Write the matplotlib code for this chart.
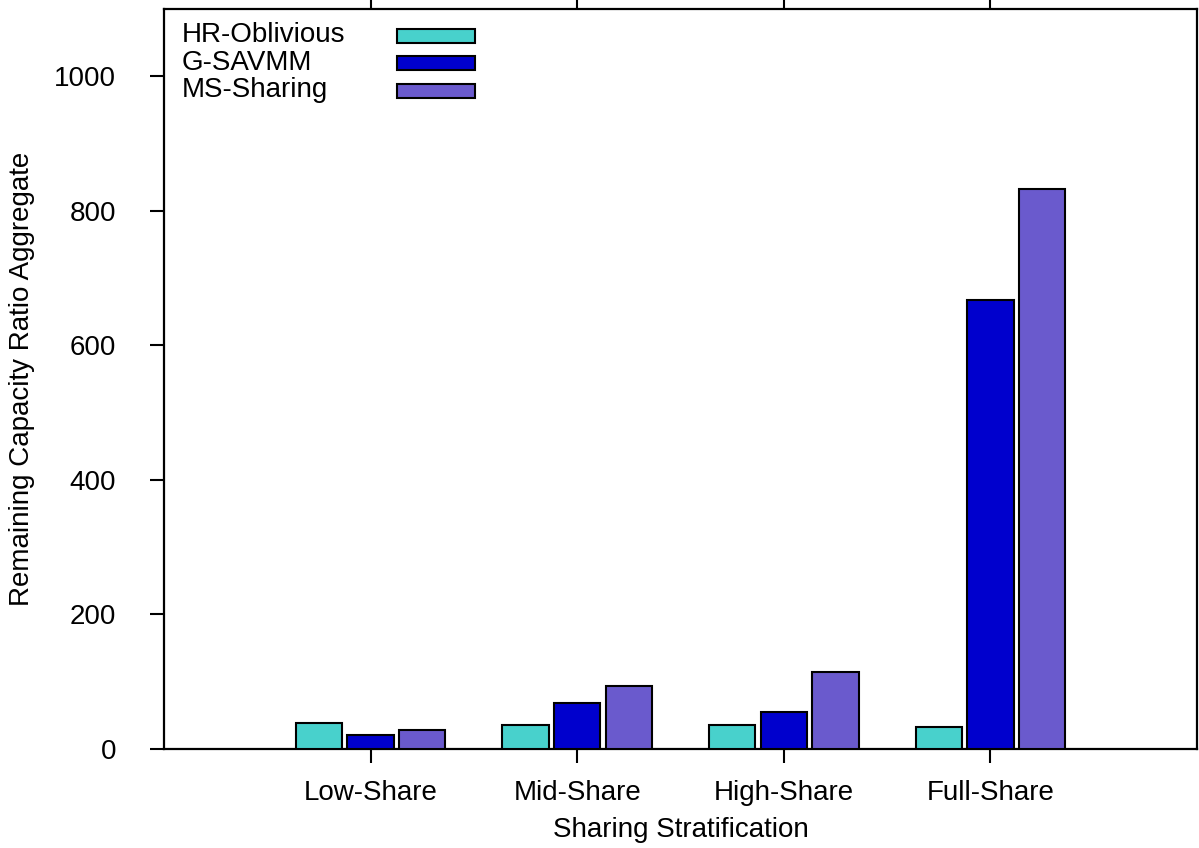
import numpy as np
import matplotlib
matplotlib.use('Agg')
from matplotlib import pyplot
from matplotlib.patches import Rectangle

# 
# data
# 
categories = ['Low-Share', 'Mid-Share', 'High-Share', 'Full-Share']
series_names = ['HR-Oblivious', 'G-SAVMM', 'MS-Sharing']
hr_oblivious = [38, 35, 36, 33]
g_savmm = [21, 68, 55, 667]
ms_sharing = [28, 94, 114, 833]
y_ticks = [0, 200, 400, 600, 800, 1000]

colors = ['#48D1CC', '#0000CD', '#6A5ACD']

pyplot.rcParams['font.family'] = ['Liberation Sans', 'DejaVu Sans']
pyplot.rcParams['font.size'] = 20

fig = pyplot.figure(figsize=(11.99, 8.48), dpi=100)
ax = fig.add_axes([164/1199., 1-749/848., (1197-164)/1199., (749-9)/848.])

# 
# clustered bars
# 
x = np.arange(len(categories))
offsets = [-0.25, 0.0, 0.25]
all_series = [hr_oblivious, g_savmm, ms_sharing]
for i in range(len(all_series)):
    ax.bar(x + offsets[i], all_series[i], width=0.225, color=colors[i],
           edgecolor='black', linewidth=1.5, zorder=3)

ax.set_xlim(-1, 4)
ax.set_ylim(0, 1100)
ax.set_xticks(x)
ax.set_xticklabels(categories)
ax.set_yticks(y_ticks)
ax.tick_params(axis='x', direction='out', length=10, width=1.5, pad=12, top=True, bottom=True)
ax.tick_params(axis='y', direction='out', length=10, width=1.5, pad=24.5, left=True, right=False)
for s in ax.spines.values():
    s.set_linewidth(1.6)

ax.set_xlabel('Sharing Stratification', labelpad=8)
ax.set_ylabel('Remaining Capacity Ratio Aggregate', labelpad=14)

# 
# gnuplot-like key: text left, swatch right
# 
row_step = 27.5/740.
for i in range(len(series_names)):
    yb = 0.955 - i*row_step
    ax.text(0.0174, yb, series_names[i], transform=ax.transAxes, ha='left', va='baseline')
    ax.add_patch(Rectangle((0.2256, yb - 0.0008), 0.0753, 0.0189, transform=ax.transAxes,
                           facecolor=colors[i], edgecolor='black', linewidth=1.5, zorder=4))

pyplot.savefig('out.png', dpi=100)
print('Output to "out.png"!')
